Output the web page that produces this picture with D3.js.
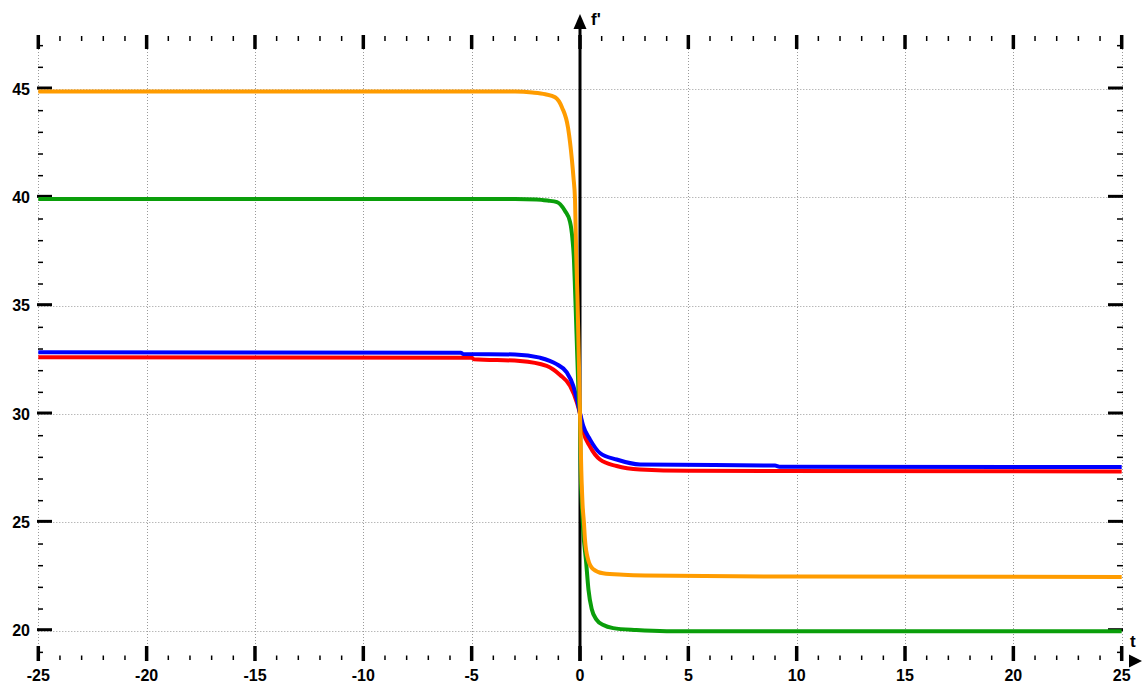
<!DOCTYPE html>
<html><head><meta charset="utf-8">
<script src="https://cdn.jsdelivr.net/npm/d3@7"></script>
<style>body{margin:0;background:#fff}svg{display:block}text{font-family:"Liberation Sans",Arial,sans-serif;font-weight:bold;fill:#000}</style>
</head><body>
<script>
// ---- data ----
const xTicks = [-25,-20,-15,-10,-5,0,5,10,15,20,25];
const yTicks = [20,25,30,35,40,45];
const xLabels = ["-25","-20","-15","-10","-5","0","5","10","15","20","25"];
const yLabels = ["20","25","30","35","40","45"];

const redT   = [-25,-5.0,-4.9,-2.77,-1.54,-0.92,-0.46,-0.15,0,0.15,0.46,0.92,1.69,2.77,5,25];
const redF   = [32.62,32.6,32.53,32.45,32.22,31.8,31.3,30.55,30.0,29.2,28.5,27.9,27.6,27.44,27.38,27.35];
const blueT  = [-25,-5.5,-5.4,-3,-1.85,-1.08,-0.61,-0.31,-0.15,0,0.15,0.46,0.92,1.69,2.77,9,9.2,25];
const blueF  = [32.85,32.83,32.77,32.75,32.6,32.3,31.92,31.3,30.7,30.05,29.45,28.83,28.2,27.9,27.67,27.62,27.57,27.55];
const greenT = [-25,-3,-2,-1.5,-1.06,-0.69,-0.46,-0.35,-0.28,-0.23,-0.18,-0.12,-0.06,0,0.03,0.08,0.15,0.28,0.39,0.54,0.77,1.08,1.53,2.6,4,25];
const greenF = [39.92,39.92,39.9,39.85,39.78,39.37,38.87,38.1,37.15,35.8,34.3,32.5,30.8,29.95,27.5,26.0,24.6,23.2,21.9,21.0,20.5,20.26,20.12,20.03,19.98,19.97];
const orangeT= [-25,-3,-2.2,-1.6,-1.15,-0.83,-0.55,-0.37,-0.3,-0.23,-0.18,-0.12,-0.06,0,0.06,0.12,0.18,0.23,0.37,0.6,1.06,2,3,10,25];
const orangeF= [44.88,44.88,44.84,44.76,44.62,44.15,43.2,41.7,40.9,39.9,37.5,35.5,32.8,30.0,27.4,25.8,25.0,24.2,23.3,22.85,22.65,22.58,22.55,22.5,22.48];

const W=1142,H=686;
const x = d3.scaleLinear().domain([-25,25]).range([38.3,1121.7]);
const y = d3.scaleLinear().domain([20,45]).range([630.7,89]);

const svg = d3.select("body").append("svg").attr("width",W).attr("height",H);

// grid
const g = svg.append("g").attr("stroke","#9a9a9a").attr("stroke-width",1).attr("stroke-dasharray","1,2");
g.selectAll("line.v").data(xTicks.filter(d=>d!==0)).join("line")
  .attr("x1",d=>Math.round(x(d))+0.5).attr("x2",d=>Math.round(x(d))+0.5).attr("y1",49).attr("y2",646);
g.selectAll("line.h").data(yTicks).join("line")
  .attr("x1",x(-25)).attr("x2",x(25)).attr("y1",d=>Math.round(y(d))+0.5).attr("y2",d=>Math.round(y(d))+0.5);

// x ticks (top and bottom rows)
const xMinor = d3.range(-25,26,1).filter(d=>d%5!==0);
const tk = svg.append("g").attr("stroke","#000");
tk.selectAll("line.tmaj").data(xTicks).join("line").attr("stroke-width",3.5)
  .attr("x1",d=>x(d)).attr("x2",d=>x(d)).attr("y1",35).attr("y2",49);
tk.selectAll("line.tmin").data(xMinor).join("line").attr("stroke-width",1.5)
  .attr("x1",d=>x(d)).attr("x2",d=>x(d)).attr("y1",36).attr("y2",41);
tk.selectAll("line.bmaj").data(xTicks).join("line").attr("stroke-width",3.5)
  .attr("x1",d=>x(d)).attr("x2",d=>x(d)).attr("y1",646).attr("y2",661);
tk.selectAll("line.bmin").data(xMinor).join("line").attr("stroke-width",1.5)
  .attr("x1",d=>x(d)).attr("x2",d=>x(d)).attr("y1",655.5).attr("y2",660);

// y ticks (left and right)
const yMinor = d3.range(19,48,1).filter(d=>d%5!==0);
tk.selectAll("line.lmaj").data(yTicks).join("line").attr("stroke-width",3)
  .attr("x1",37).attr("x2",52).attr("y1",d=>y(d)-1).attr("y2",d=>y(d)-1);
tk.selectAll("line.lmin").data(yMinor).join("line").attr("stroke-width",1.5)
  .attr("x1",38).attr("x2",43).attr("y1",d=>y(d)).attr("y2",d=>y(d));
tk.selectAll("line.rmaj").data(yTicks).join("line").attr("stroke-width",3)
  .attr("x1",1108).attr("x2",1123).attr("y1",d=>y(d)-1).attr("y2",d=>y(d)-1);
tk.selectAll("line.rmin").data(yMinor).join("line").attr("stroke-width",1.5)
  .attr("x1",1117).attr("x2",1123).attr("y1",d=>y(d)).attr("y2",d=>y(d));

// labels
svg.selectAll("text.xl").data(xTicks).join("text").attr("class","xl")
  .attr("x",d=>x(d)).attr("y",681).attr("text-anchor","middle").attr("font-size",16)
  .text((d,i)=>xLabels[i]);
svg.selectAll("text.yl").data(yTicks).join("text").attr("class","yl")
  .attr("x",30).attr("y",d=>y(d)+5.5).attr("text-anchor","end").attr("font-size",16)
  .text((d,i)=>yLabels[i]);

// vertical axis at t=0
svg.append("line").attr("x1",x(0)).attr("x2",x(0)).attr("y1",28).attr("y2",661)
  .attr("stroke","#000").attr("stroke-width",3);
svg.append("path").attr("d",`M${x(0)},14 L${x(0)-6.5},29 L${x(0)+6.5},29 Z`).attr("fill","#000");
svg.append("text").attr("x",x(0)+11).attr("y",25).attr("font-size",17).text("f'");
// x arrow
svg.append("path").attr("d",`M1142,661 L1129,654.5 L1129,667.5 Z`).attr("fill","#000");
svg.append("text").attr("x",1130).attr("y",647).attr("font-size",17).text("t");

// curves
const line = d3.line().x(d=>x(d[0])).y(d=>y(d[1])).curve(d3.curveMonotoneX);
const series = [
  {t:redT,f:redF,c:"#ff0000"},
  {t:blueT,f:blueF,c:"#0000ff"},
  {t:greenT,f:greenF,c:"#0a9e0a"},
  {t:orangeT,f:orangeF,c:"#ff9c00"}
];
series.forEach(s=>{
  svg.append("path").datum(s.t.map((t,i)=>[t,s.f[i]]))
    .attr("d",line).attr("fill","none").attr("stroke",s.c).attr("stroke-width",4)
    .attr("stroke-linejoin","round");
});
</script>
</body></html>
